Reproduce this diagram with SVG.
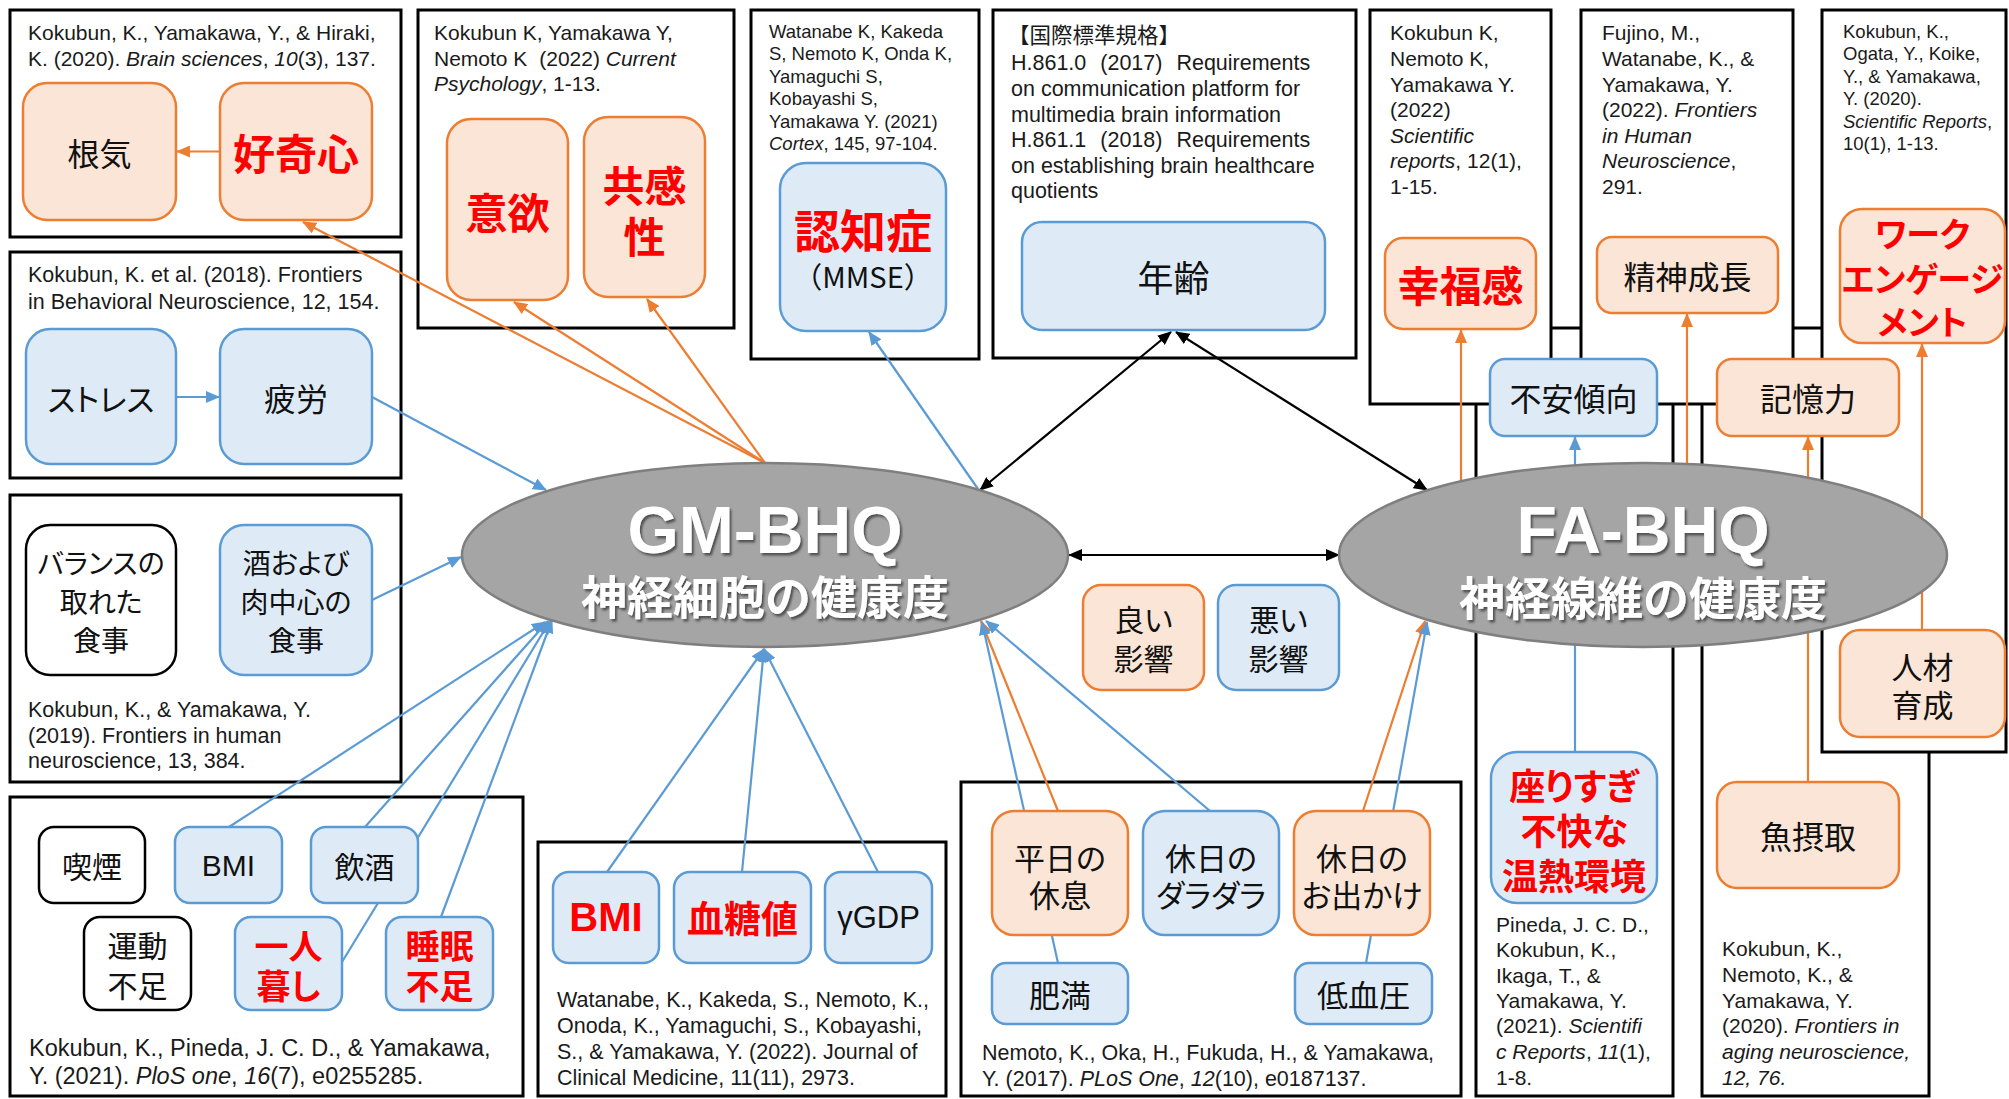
<svg xmlns="http://www.w3.org/2000/svg" width="2009" height="1099" viewBox="0 0 2009 1099">
<defs>
<style>
.ref{fill:#fff;stroke:#000;stroke-width:3}
.o{fill:#fbe5d6;stroke:#ed7d31;stroke-width:2.5}
.b{fill:#deebf7;stroke:#5b9bd5;stroke-width:2.5}
.w{fill:#fff;stroke:#000;stroke-width:2.5}
.c{font-family:"Liberation Sans",Arial,sans-serif;font-size:21px;fill:#1a1a1a}
.s{font-size:18.5px}
.m{font-size:23.5px}
.j{font-family:"Noto Sans CJK JP",sans-serif;font-size:31px;fill:#111;text-anchor:middle;dominant-baseline:central;font-feature-settings:"palt"}
.l{font-family:"Liberation Sans",Arial,sans-serif}
.r{fill:#ff0000;font-weight:bold}
.lo{stroke:#ed7d31;stroke-width:2.2;fill:none;marker-end:url(#mo)}
.lb{stroke:#5b9bd5;stroke-width:2.2;fill:none;marker-end:url(#mb)}
.lk{stroke:#000;stroke-width:2.2;fill:none;marker-start:url(#mk);marker-end:url(#mk)}
.ell{fill:#a5a5a5;stroke:#7f7f7f;stroke-width:2.5}
.et{font-family:"Liberation Sans",Arial,sans-serif;font-weight:bold;font-size:66px;fill:#fff;text-anchor:middle;filter:url(#sh)}
.ej{font-family:"Noto Sans CJK JP",sans-serif;font-weight:bold;font-size:46px;fill:#fff;text-anchor:middle;dominant-baseline:central;filter:url(#sh)}
</style>
<marker id="mo" viewBox="0 0 14 12" refX="13" refY="6" markerWidth="14" markerHeight="12" markerUnits="userSpaceOnUse" orient="auto-start-reverse"><path d="M0,0 L14,6 L0,12 z" fill="#ed7d31"/></marker>
<marker id="mb" viewBox="0 0 14 12" refX="13" refY="6" markerWidth="14" markerHeight="12" markerUnits="userSpaceOnUse" orient="auto-start-reverse"><path d="M0,0 L14,6 L0,12 z" fill="#5b9bd5"/></marker>
<marker id="mk" viewBox="0 0 14 12" refX="13" refY="6" markerWidth="14" markerHeight="12" markerUnits="userSpaceOnUse" orient="auto-start-reverse"><path d="M0,0 L14,6 L0,12 z" fill="#000"/></marker>
<filter id="sh" x="-10%" y="-30%" width="120%" height="160%"><feDropShadow dx="2" dy="2.5" stdDeviation="1.2" flood-color="#3a3a3a" flood-opacity="0.8"/></filter>
</defs>

<g id="references">
<g id="refP"><rect class="ref" x="1476" y="328" width="197" height="768"/>
<text class="c"><tspan x="1496" y="932">Pineda, J. C. D.,</tspan><tspan x="1496" y="957">Kokubun, K.,</tspan><tspan x="1496" y="983">Ikaga, T., &amp;</tspan><tspan x="1496" y="1008">Yamakawa, Y.</tspan><tspan x="1496" y="1033">(2021). <tspan font-style="italic">Scientifi</tspan></tspan><tspan x="1496" y="1059" font-style="italic">c Reports</tspan><tspan>, </tspan><tspan font-style="italic">11</tspan><tspan>(1),</tspan><tspan x="1496" y="1085">1-8.</tspan></text></g>
<g id="refA"><rect class="ref" x="1702" y="328" width="227" height="768"/>
<text class="c"><tspan x="1722" y="956">Kokubun, K.,</tspan><tspan x="1722" y="982">Nemoto, K., &amp;</tspan><tspan x="1722" y="1008">Yamakawa, Y.</tspan><tspan x="1722" y="1033">(2020). <tspan font-style="italic">Frontiers in</tspan></tspan><tspan x="1722" y="1059" font-style="italic">aging neuroscience,</tspan><tspan x="1722" y="1085" font-style="italic">12, 76.</tspan></text></g>
<g id="ref1"><rect class="ref" x="10" y="10" width="391" height="227"/>
<text class="c"><tspan x="28" y="40">Kokubun, K., Yamakawa, Y., &amp; Hiraki,</tspan><tspan x="28" y="66">K. (2020). </tspan><tspan font-style="italic">Brain sciences</tspan><tspan>, </tspan><tspan font-style="italic">10</tspan><tspan>(3), 137.</tspan></text></g>
<g id="ref2"><rect class="ref" x="418" y="10" width="316" height="318"/>
<text class="c"><tspan x="434" y="40">Kokubun K, Yamakawa Y,</tspan><tspan x="434" y="66">Nemoto K </tspan><tspan dx="6">(2022) </tspan><tspan font-style="italic">Current</tspan><tspan x="434" y="91" font-style="italic">Psychology</tspan><tspan>, 1-13.</tspan></text></g>
<g id="ref3"><rect class="ref" x="751" y="10" width="228" height="349"/>
<text class="c s"><tspan x="769" y="38">Watanabe K, Kakeda</tspan><tspan x="769" y="60">S, Nemoto K, Onda K,</tspan><tspan x="769" y="83">Yamaguchi S,</tspan><tspan x="769" y="105">Kobayashi S,</tspan><tspan x="769" y="128">Yamakawa Y. (2021)</tspan><tspan x="769" y="150" font-style="italic">Cortex</tspan><tspan>, 145, 97-104.</tspan></text></g>
<g id="ref4"><rect class="ref" x="993" y="10" width="363" height="348"/>
<text class="c" style="font-size:21.5px"><tspan x="1008" y="43" font-family="Noto Sans CJK JP, sans-serif">【国際標準規格】</tspan><tspan x="1011" y="70">H.861.0 </tspan><tspan dx="8">(2017) </tspan><tspan dx="8">Requirements</tspan><tspan x="1011" y="96">on communication platform for</tspan><tspan x="1011" y="122">multimedia brain information</tspan><tspan x="1011" y="147">H.861.1 </tspan><tspan dx="8">(2018) </tspan><tspan dx="8">Requirements</tspan><tspan x="1011" y="173">on establishing brain healthcare</tspan><tspan x="1011" y="198">quotients</tspan></text></g>
<g id="ref5"><rect class="ref" x="1370" y="10" width="181" height="394"/>
<text class="c"><tspan x="1390" y="40">Kokubun K,</tspan><tspan x="1390" y="66">Nemoto K,</tspan><tspan x="1390" y="92">Yamakawa Y.</tspan><tspan x="1390" y="117">(2022)</tspan><tspan x="1390" y="143" font-style="italic">Scientific</tspan><tspan x="1390" y="168" font-style="italic">reports</tspan><tspan>, 12(1),</tspan><tspan x="1390" y="194">1-15.</tspan></text></g>
<g id="ref6"><rect class="ref" x="1581" y="10" width="212" height="394"/>
<text class="c"><tspan x="1602" y="40">Fujino, M.,</tspan><tspan x="1602" y="66">Watanabe, K., &amp;</tspan><tspan x="1602" y="92">Yamakawa, Y.</tspan><tspan x="1602" y="117">(2022). </tspan><tspan font-style="italic">Frontiers</tspan><tspan x="1602" y="143" font-style="italic">in Human</tspan><tspan x="1602" y="168" font-style="italic">Neuroscience</tspan><tspan>,</tspan><tspan x="1602" y="194">291.</tspan></text></g>
<g id="ref7"><rect class="ref" x="1822" y="10" width="184" height="742"/>
<text class="c s"><tspan x="1843" y="38">Kokubun, K.,</tspan><tspan x="1843" y="60">Ogata, Y., Koike,</tspan><tspan x="1843" y="83">Y., &amp; Yamakawa,</tspan><tspan x="1843" y="105">Y. (2020).</tspan><tspan x="1843" y="128" font-style="italic">Scientific Reports</tspan><tspan>,</tspan><tspan x="1843" y="150">10(1), 1-13.</tspan></text></g>
<g id="ref8"><rect class="ref" x="10" y="252" width="391" height="226"/>
<text class="c" style="font-size:21.5px"><tspan x="28" y="282">Kokubun, K. et al. (2018). Frontiers</tspan><tspan x="28" y="309">in Behavioral Neuroscience, 12, 154.</tspan></text></g>
<g id="ref9"><rect class="ref" x="10" y="495" width="391" height="287"/>
<text class="c" style="font-size:21.5px"><tspan x="28" y="717">Kokubun, K., &amp; Yamakawa, Y.</tspan><tspan x="28" y="743">(2019). Frontiers in human</tspan><tspan x="28" y="768">neuroscience, 13, 384.</tspan></text></g>
<g id="ref10"><rect class="ref" x="10" y="797" width="513" height="299"/>
<text class="c m"><tspan x="29" y="1056">Kokubun, K., Pineda, J. C. D., &amp; Yamakawa,</tspan><tspan x="29" y="1084">Y. (2021). </tspan><tspan font-style="italic">PloS one</tspan><tspan>, </tspan><tspan font-style="italic">16</tspan><tspan>(7), e0255285.</tspan></text></g>
<g id="ref11"><rect class="ref" x="538" y="842" width="408" height="254"/>
<text class="c" style="font-size:21.5px"><tspan x="557" y="1007">Watanabe, K., Kakeda, S., Nemoto, K.,</tspan><tspan x="557" y="1033">Onoda, K., Yamaguchi, S., Kobayashi,</tspan><tspan x="557" y="1059">S., &amp; Yamakawa, Y. (2022). Journal of</tspan><tspan x="557" y="1085">Clinical Medicine, 11(11), 2973.</tspan></text></g>
<g id="ref12"><rect class="ref" x="961" y="782" width="500" height="314"/>
<text class="c" style="font-size:21.5px"><tspan x="982" y="1060">Nemoto, K., Oka, H., Fukuda, H., &amp; Yamakawa,</tspan><tspan x="982" y="1086">Y. (2017). </tspan><tspan font-style="italic">PLoS One</tspan><tspan>, </tspan><tspan font-style="italic">12</tspan><tspan>(10), e0187137.</tspan></text></g>
</g>

<g id="connectors">
<line class="lo" x1="765" y1="463" x2="303" y2="222"/>
<line class="lo" x1="765" y1="463" x2="514" y2="302"/>
<line class="lo" x1="765" y1="463" x2="647" y2="299"/>
<line class="lo" x1="220" y1="151.5" x2="177" y2="151.5"/>
<line class="lo" x1="1058" y1="811" x2="981" y2="621"/>
<line class="lo" x1="1363" y1="811" x2="1425" y2="621"/>
<line class="lo" x1="1461" y1="481" x2="1461" y2="330"/>
<line class="lo" x1="1687" y1="464" x2="1687" y2="314"/>
<line class="lo" x1="1808" y1="782" x2="1808" y2="437"/>
<line class="lo" x1="1922" y1="630" x2="1922" y2="344"/>
<line class="lb" x1="176" y1="397" x2="219" y2="397"/>
<line class="lb" x1="372" y1="397" x2="546" y2="490"/>
<line class="lb" x1="372" y1="600" x2="461" y2="557"/>
<line class="lb" x1="229" y1="827" x2="545" y2="622"/>
<line class="lb" x1="365" y1="827" x2="548" y2="621"/>
<line class="lb" x1="342" y1="962" x2="550" y2="621"/>
<line class="lb" x1="441" y1="917" x2="552" y2="620"/>
<line class="lb" x1="978" y1="489" x2="869" y2="332"/>
<line class="lb" x1="607" y1="872" x2="764" y2="649"/>
<line class="lb" x1="742" y1="872" x2="764" y2="649"/>
<line class="lb" x1="878" y1="872" x2="764" y2="649"/>
<line class="lb" x1="1058" y1="963" x2="982" y2="622"/>
<line class="lb" x1="1210" y1="811" x2="986" y2="621"/>
<line class="lb" x1="1366" y1="963" x2="1427" y2="622"/>
<line class="lb" x1="1575" y1="752" x2="1575" y2="437"/>
<line class="lk" x1="980" y1="490" x2="1171" y2="332"/>
<line class="lk" x1="1176" y1="332" x2="1427" y2="490"/>
<line class="lk" x1="1069" y1="555" x2="1339" y2="555"/>
</g>

<g id="n-konki"><rect class="o" x="23" y="83" width="153" height="137" rx="24"/><text class="j" x="99.5" y="151.5" style="font-size:32px">根気</text></g>
<g id="n-kokishin"><rect class="o" x="220" y="83" width="152" height="137" rx="24"/><text class="j r" x="296" y="151.5" style="font-size:42px">好奇心</text></g>
<g id="n-iyoku"><rect class="o" x="447" y="119" width="121" height="181" rx="24"/><text class="j r" x="507.5" y="210" style="font-size:42px">意欲</text></g>
<g id="n-kyokan"><rect class="o" x="584" y="117" width="121" height="180" rx="24"/><text class="j r" style="font-size:42px"><tspan x="644.5" y="183">共感</tspan><tspan x="644.5" y="234">性</tspan></text></g>
<g id="n-ninchi"><rect class="b" x="780" y="163" width="166" height="168" rx="26"/><text class="j r" x="863" y="228" style="font-size:46px">認知症</text><text class="j" x="863" y="275" style="font-size:29px;font-feature-settings:normal">（MMSE）</text></g>
<g id="n-nenrei"><rect class="b" x="1022" y="222" width="303" height="108" rx="20"/><text class="j" x="1173.5" y="276" style="font-size:36px">年齢</text></g>
<g id="n-stress"><rect class="b" x="26" y="329" width="150" height="135" rx="24"/><text class="j" x="101" y="397">ストレス</text></g>
<g id="n-hirou"><rect class="b" x="220" y="329" width="152" height="135" rx="24"/><text class="j" x="296" y="397" style="font-size:32px">疲労</text></g>
<g id="n-balance"><rect class="w" x="26" y="525" width="150" height="150" rx="24"/><text class="j" style="font-size:28px"><tspan x="101" y="562">バランスの</tspan><tspan x="101" y="601">取れた</tspan><tspan x="101" y="639">食事</tspan></text></g>
<g id="n-sake"><rect class="b" x="220" y="525" width="152" height="150" rx="24"/><text class="j" style="font-size:28px"><tspan x="296" y="562">酒および</tspan><tspan x="296" y="601">肉中心の</tspan><tspan x="296" y="639">食事</tspan></text></g>
<g id="n-kitsuen"><rect class="w" x="39" y="827" width="106" height="76" rx="15"/><text class="j" x="92" y="865" style="font-size:30px">喫煙</text></g>
<g id="n-bmi1"><rect class="b" x="175" y="827" width="107" height="76" rx="15"/><text class="j l" x="228.5" y="865" style="font-size:30px">BMI</text></g>
<g id="n-inshu"><rect class="b" x="311" y="827" width="107" height="76" rx="15"/><text class="j" x="364.5" y="865" style="font-size:30px">飲酒</text></g>
<g id="n-undou"><rect class="w" x="84" y="917" width="107" height="93" rx="16"/><text class="j" style="font-size:30px"><tspan x="137.5" y="944">運動</tspan><tspan x="137.5" y="984">不足</tspan></text></g>
<g id="n-hitori"><rect class="b" x="235" y="917" width="107" height="93" rx="16"/><text class="j r" style="font-size:34px"><tspan x="288.5" y="944">一人</tspan><tspan x="288.5" y="984">暮し</tspan></text></g>
<g id="n-suimin"><rect class="b" x="386" y="917" width="107" height="93" rx="16"/><text class="j r" style="font-size:34px"><tspan x="439.5" y="944">睡眠</tspan><tspan x="439.5" y="984">不足</tspan></text></g>
<g id="n-bmi2"><rect class="b" x="553" y="872" width="106" height="91" rx="16"/><text class="j r l" x="606" y="917" style="font-size:40px">BMI</text></g>
<g id="n-kettou"><rect class="b" x="674" y="872" width="137" height="91" rx="16"/><text class="j r" x="742.5" y="917" style="font-size:37px">血糖値</text></g>
<g id="n-ggdp"><rect class="b" x="825" y="872" width="107" height="91" rx="16"/><text class="j l" x="878.5" y="917" style="font-size:31px">γGDP</text></g>
<g id="n-yoi"><rect class="o" x="1083" y="585" width="121" height="105" rx="18"/><text class="j" style="font-size:30px"><tspan x="1143.5" y="618">良い</tspan><tspan x="1143.5" y="657">影響</tspan></text></g>
<g id="n-warui"><rect class="b" x="1218" y="585" width="121" height="105" rx="18"/><text class="j" style="font-size:30px"><tspan x="1278.5" y="618">悪い</tspan><tspan x="1278.5" y="657">影響</tspan></text></g>
<g id="n-heijitsu"><rect class="o" x="992" y="811" width="136" height="124" rx="22"/><text class="j"><tspan x="1060" y="856">平日の</tspan><tspan x="1060" y="893">休息</tspan></text></g>
<g id="n-daradara"><rect class="b" x="1143" y="811" width="136" height="124" rx="22"/><text class="j"><tspan x="1211" y="856">休日の</tspan><tspan x="1211" y="893">ダラダラ</tspan></text></g>
<g id="n-odekake"><rect class="o" x="1294" y="811" width="136" height="124" rx="22"/><text class="j"><tspan x="1362" y="856">休日の</tspan><tspan x="1362" y="893">お出かけ</tspan></text></g>
<g id="n-himan"><rect class="b" x="992" y="963" width="136" height="61" rx="14"/><text class="j" x="1060" y="993">肥満</text></g>
<g id="n-teiketsuatsu"><rect class="b" x="1295" y="963" width="137" height="61" rx="14"/><text class="j" x="1363.5" y="993">低血圧</text></g>
<g id="n-koufuku"><rect class="o" x="1385" y="238" width="151" height="91" rx="18"/><text class="j r" x="1460.5" y="283" style="font-size:42px">幸福感</text></g>
<g id="n-seishin"><rect class="o" x="1597" y="237" width="181" height="76" rx="15"/><text class="j" x="1687.5" y="275" style="font-size:32px">精神成長</text></g>
<g id="n-work"><rect class="o" x="1840" y="209" width="165" height="134" rx="22"/><text class="j r" style="font-size:34px"><tspan x="1922.5" y="232">ワーク</tspan><tspan x="1922.5" y="277">エンゲージ</tspan><tspan x="1922.5" y="320">メント</tspan></text></g>
<g id="n-fuan"><rect class="b" x="1490" y="359" width="167" height="77" rx="15"/><text class="j" x="1573.5" y="397" style="font-size:32px">不安傾向</text></g>
<g id="n-kioku"><rect class="o" x="1717" y="359" width="182" height="77" rx="15"/><text class="j" x="1808" y="397" style="font-size:32px">記憶力</text></g>
<g id="n-jinzai"><rect class="o" x="1840" y="630" width="165" height="107" rx="20"/><text class="j"><tspan x="1922.5" y="665">人材</tspan><tspan x="1922.5" y="703">育成</tspan></text></g>
<g id="n-suwari"><rect class="b" x="1491" y="752" width="166" height="151" rx="26"/><text class="j r" style="font-size:36px"><tspan x="1574" y="784">座りすぎ</tspan><tspan x="1574" y="829">不快な</tspan><tspan x="1574" y="874">温熱環境</tspan></text></g>
<g id="n-sakana"><rect class="o" x="1717" y="782" width="182" height="106" rx="20"/><text class="j" x="1808" y="835" style="font-size:32px">魚摂取</text></g>

<g id="n-gm"><ellipse class="ell" cx="765" cy="555" rx="303" ry="92"/><text class="et" x="765" y="553">GM-BHQ</text><text class="ej" x="765" y="594">神経細胞の健康度</text></g>
<g id="n-fa"><ellipse class="ell" cx="1643" cy="555" rx="304" ry="92"/><text class="et" x="1643" y="553">FA-BHQ</text><text class="ej" x="1643" y="595">神経線維の健康度</text></g>
</svg>
